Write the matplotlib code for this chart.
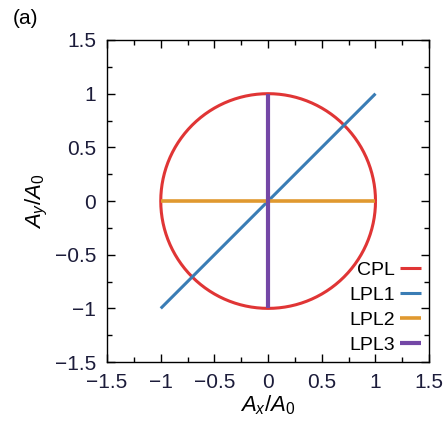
import numpy as np
import matplotlib.pyplot as plt
from matplotlib.ticker import MultipleLocator

plt.rcParams['font.family'] = ['Liberation Sans', 'DejaVu Sans']
plt.rcParams['mathtext.fontset'] = 'custom'
plt.rcParams['mathtext.rm'] = 'Liberation Sans'
plt.rcParams['mathtext.it'] = 'Liberation Sans:italic'

# Field components over one optical cycle
phase = np.linspace(0, 2 * np.pi, 361)
cpl_x = np.cos(phase)
cpl_y = np.sin(phase)

# Linear polarisations: end points of the field vector
lpl1_x = [-1, 1]
lpl1_y = [-1, 1]
lpl2_x = [-1, 1]
lpl2_y = [0, 0]
lpl3_x = [0, 0]
lpl3_y = [-1, 1]

labels = ["CPL", "LPL1", "LPL2", "LPL3"]
colors = ["#e03535", "#3a7db5", "#e0992f", "#7447a6"]
widths = [2.2, 2.2, 2.6, 3.0]

ticks = [-1.5, -1, -0.5, 0, 0.5, 1, 1.5]
tick_labels = ["\u22121.5", "\u22121", "\u22120.5", "0", "0.5", "1", "1.5"]

fig = plt.figure(figsize=(4.48, 4.21), dpi=100)
ax = fig.add_axes([0.239, 0.140, 0.719, 0.765])

xs = [cpl_x, lpl1_x, lpl2_x, lpl3_x]
ys = [cpl_y, lpl1_y, lpl2_y, lpl3_y]
for x, y, lab, c, w in zip(xs, ys, labels, colors, widths):
    ax.plot(x, y, color=c, lw=w, label=lab, solid_capstyle='butt')

ax.set_xlim(-1.5, 1.5)
ax.set_ylim(-1.5, 1.5)
ax.set_xticks(ticks)
ax.set_xticklabels(tick_labels)
ax.set_yticks(ticks)
ax.set_yticklabels(tick_labels)
ax.xaxis.set_minor_locator(MultipleLocator(0.25))
ax.yaxis.set_minor_locator(MultipleLocator(0.25))
ax.tick_params(which='both', direction='in', top=True, right=True,
               labelsize=15, labelcolor='#1c1c3a', width=1.0)
ax.tick_params(which='major', length=6, pad=8)
ax.tick_params(which='minor', length=3.5)
for s in ax.spines.values():
    s.set_linewidth(1.0)

ax.set_xlabel(r'$A_x/A_0$', fontsize=16, labelpad=1)
ax.set_ylabel(r'$A_y/A_0$', fontsize=16, labelpad=3)

ax.legend(loc='lower right', frameon=False, markerfirst=False, fontsize=14,
          handlelength=1.1, handletextpad=0.25, labelspacing=0.38,
          borderaxespad=0.2, borderpad=0.2)

fig.text(0.029, 0.943, '(a)', fontsize=15, va='baseline')

fig.savefig('out.png', dpi=100)
